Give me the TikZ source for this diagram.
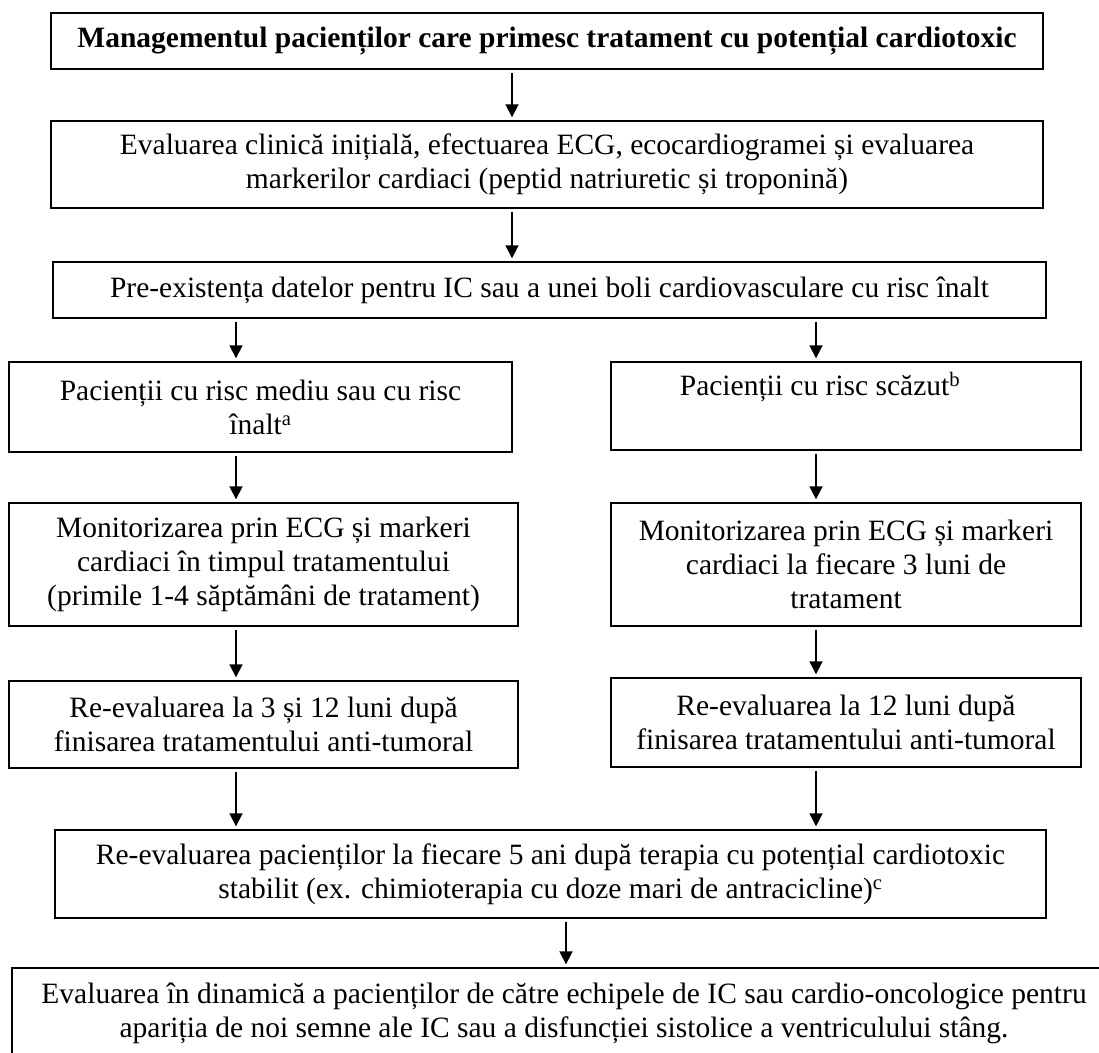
\documentclass[tikz,border=0pt]{standalone}
\usepackage{fontspec}
\setmainfont{Liberation Serif}
\usetikzlibrary{arrows.meta}
\tikzset{
  box/.style={draw, line width=1.4pt, rectangle, inner sep=0pt, align=center,
    font=\fontsize{29.5}{34}\selectfont},
  arr/.style={line width=1.8pt, -{Triangle[length=13pt,width=13pt]},
    shorten <=3pt, shorten >=3pt}
}
\begin{document}
\begin{tikzpicture}[x=1pt,y=-1pt]
\useasboundingbox (0,0) rectangle (1099,1052);
\node[box, minimum width=992pt, minimum height=56pt] (b1) at (547,41)
  {\bfseries Managementul pacienților care primesc tratament cu potențial cardiotoxic};
\node[box, minimum width=992pt, minimum height=87pt] (b2) at (547,164.5)
  {Evaluarea clinică inițială, efectuarea ECG, ecocardiogramei și evaluarea\\ markerilor cardiaci (peptid natriuretic și troponină)};
\node[box, minimum width=993pt, minimum height=56pt] (b3) at (549.5,290)
  {Pre-existența datelor pentru IC sau a unei boli cardiovasculare cu risc înalt};
\node[box, minimum width=503pt, minimum height=90pt] (b4) at (260.5,407)
  {Pacienții cu risc mediu sau cu risc\\ înalt\textsuperscript{a}};
\node[box, minimum width=470pt, minimum height=88pt] (b5) at (846,406)
  {Pacienții cu risc scăzut\textsuperscript{b}\hspace*{52pt}\\ \strut};
\node[box, minimum width=509pt, minimum height=123pt] (b6) at (263.5,564.5)
  {Monitorizarea prin ECG și markeri\\ cardiaci în timpul tratamentului\\ (primile 1-4 săptămâni de tratament)};
\node[box, minimum width=470pt, minimum height=123pt] (b7) at (846,564.5)
  {Monitorizarea prin ECG și markeri\\ cardiaci la fiecare 3 luni de\\ tratament};
\node[box, minimum width=509pt, minimum height=87pt] (b8) at (263.5,724.5)
  {Re-evaluarea la 3 și 12 luni după\\ finisarea tratamentului anti-tumoral};
\node[box, minimum width=470pt, minimum height=89pt] (b9) at (846,722.5)
  {Re-evaluarea la 12 luni după\\ finisarea tratamentului anti-tumoral};
\node[box, minimum width=991pt, minimum height=88pt] (b10) at (550.5,874)
  {Re-evaluarea pacienților la fiecare 5 ani după terapia cu potențial cardiotoxic\\ stabilit (ex. chimioterapia cu doze mari de antracicline)\textsuperscript{c}};
\node[box, minimum width=1104pt, minimum height=90pt] (b11) at (564,1013)
  {Evaluarea în dinamică a pacienților de către echipele de IC sau cardio-oncologice pentru\\ apariția de noi semne ale IC sau a disfuncției sistolice a ventriculului stâng.};
\draw[arr] (b1.south -| 512,0) -- (b2.north -| 512,0);
\draw[arr] (b2.south -| 512,0) -- (b3.north -| 512,0);
\draw[arr] (b3.south -| 236,0) -- (b4.north -| 236,0);
\draw[arr] (b3.south -| 816,0) -- (b5.north -| 816,0);
\draw[arr] (b4.south -| 236,0) -- (b6.north -| 236,0);
\draw[arr] (b5.south -| 816,0) -- (b7.north -| 816,0);
\draw[arr] (b6.south -| 236,0) -- (b8.north -| 236,0);
\draw[arr] (b7.south -| 816,0) -- (b9.north -| 816,0);
\draw[arr] (b8.south -| 236,0) -- (b10.north -| 236,0);
\draw[arr] (b9.south -| 816,0) -- (b10.north -| 816,0);
\draw[arr] (b10.south -| 566,0) -- (b11.north -| 566,0);
\end{tikzpicture}
\end{document}
